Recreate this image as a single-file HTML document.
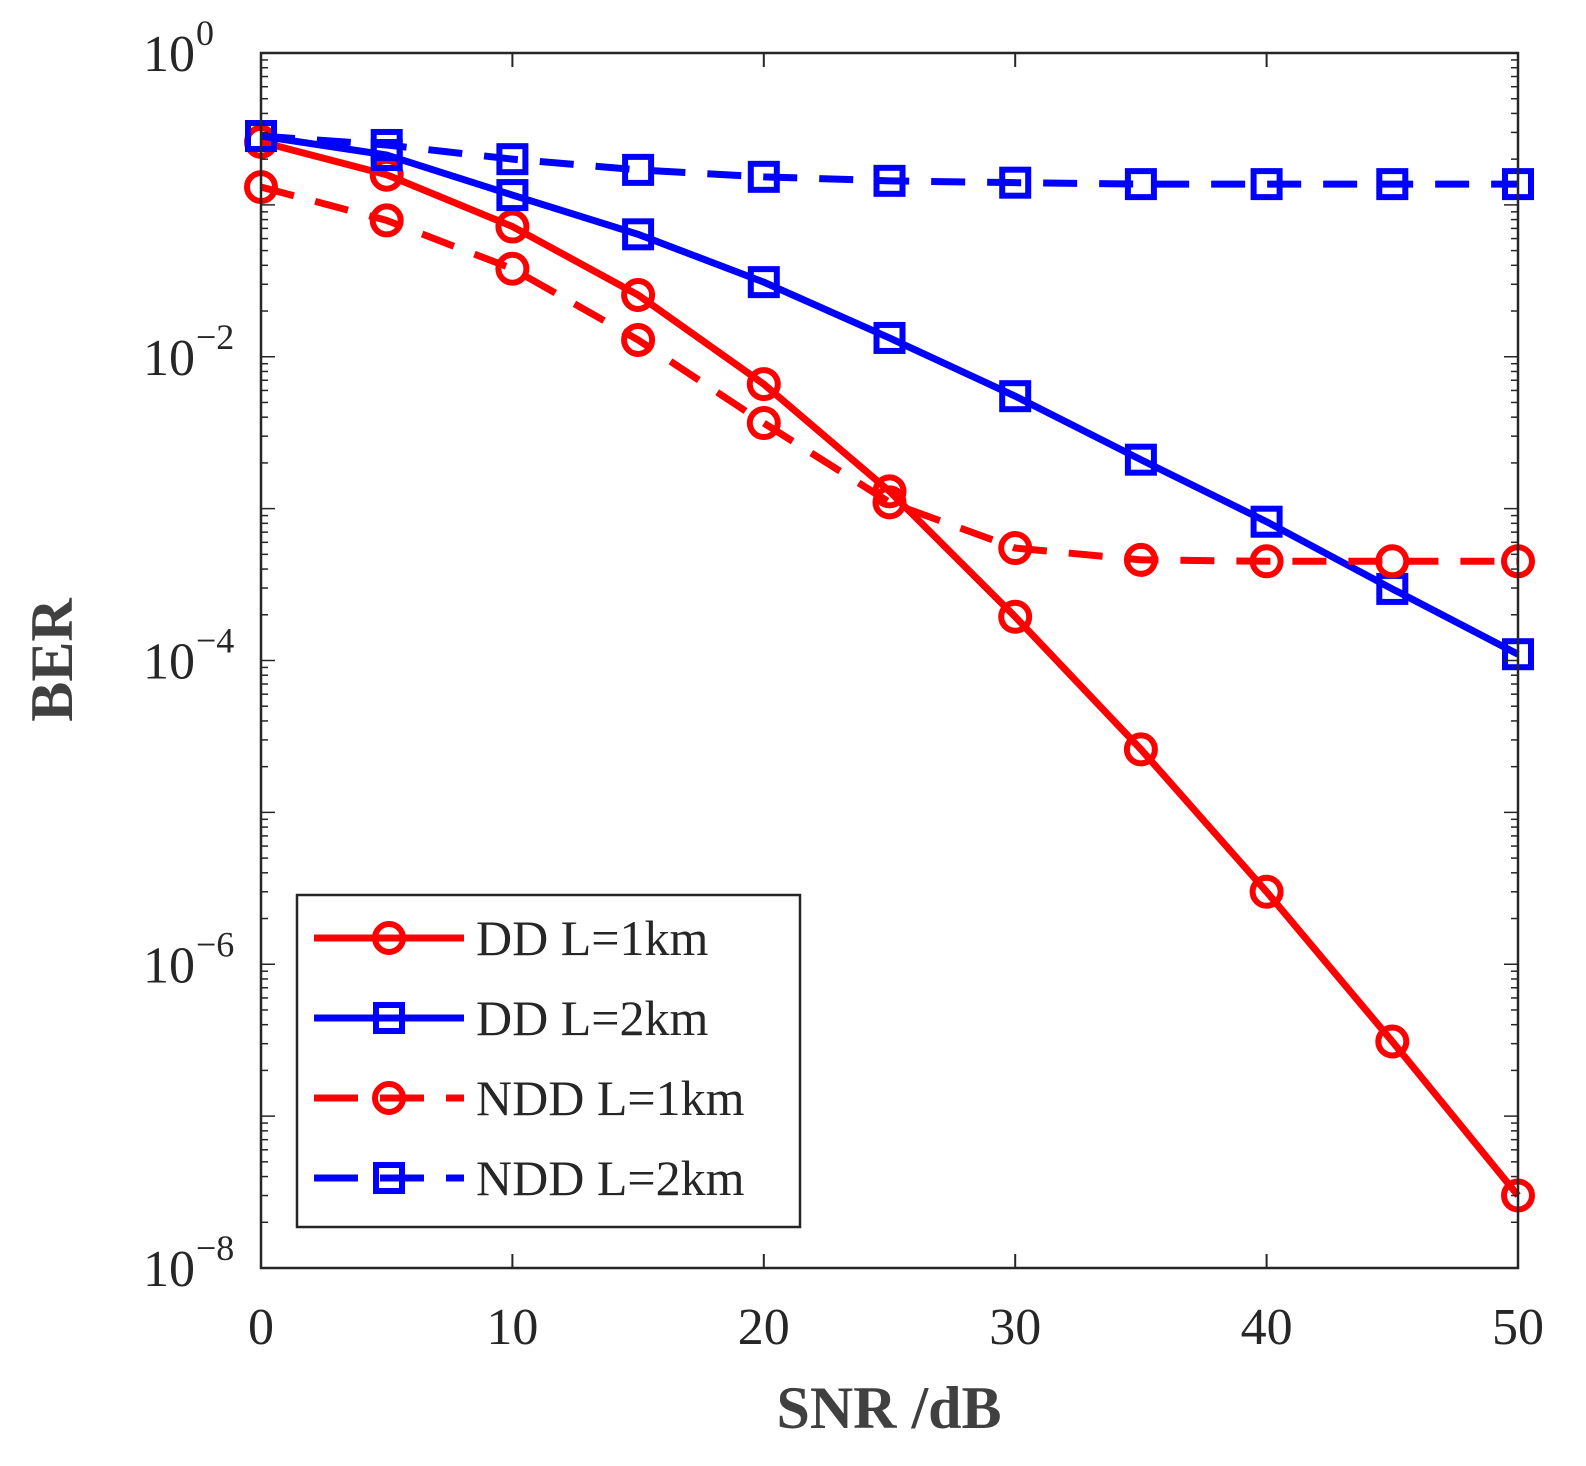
<!DOCTYPE html>
<html><head><meta charset="utf-8"><style>
html,body{margin:0;padding:0;background:#fff;}
svg{display:block;font-family:"Liberation Serif",serif;}
</style></head><body>
<svg id="chart" width="1586" height="1466" viewBox="0 0 1586 1466" xmlns="http://www.w3.org/2000/svg">
<rect width="1586" height="1466" fill="#fff"/>
<g id="grid"></g>
<g id="series"></g>
<rect x="261" y="53" width="1257" height="1215" fill="none" stroke="#262626" stroke-width="2.5"/>
<g id="ticks"></g>
<text x="889" y="1428" text-anchor="middle" font-size="60" font-weight="bold" fill="#404040">SNR /dB</text>
<text transform="translate(72,660) rotate(-90)" text-anchor="middle" font-size="60" font-weight="bold" fill="#404040">BER</text>
<g id="legend"></g>
</svg>
<script>
const snr = [0,5,10,15,20,25,30,35,40,45,50];
const ddL1 = [0.26,0.158,0.072,0.0255,0.0066,0.0013,1.94e-4,2.6e-5,3e-6,3.1e-7,3e-8];
const ddL2 = [0.284,0.213,0.116,0.064,0.031,0.0133,0.0055,0.0021,8.2e-4,2.96e-4,1.1e-4];
const nddL1 = [0.131,0.079,0.038,0.0129,0.00366,0.0011,5.5e-4,4.6e-4,4.5e-4,4.5e-4,4.5e-4];
const nddL2 = [0.284,0.248,0.2,0.17,0.153,0.144,0.14,0.137,0.137,0.137,0.137];
const xTicks = [0,10,20,30,40,50];
const yExps = [0,-2,-4,-6,-8];
const seriesNames = ["DD L=1km","DD L=2km","NDD L=1km","NDD L=2km"];

const NS="http://www.w3.org/2000/svg";
const X0=261,X1=1518,Y0=53,Y1=1268;
const xs=v=>X0+(v-0)/(50-0)*(X1-X0);
const ys=v=>Y0+(0-Math.log10(v))/8*(Y1-Y0);
function mk(tag,attrs,parent){const e=document.createElementNS(NS,tag);for(const k in attrs)e.setAttribute(k,attrs[k]);parent.appendChild(e);return e;}
const tk=document.getElementById('ticks');
xTicks.forEach(t=>{
  const x=xs(t);
  const l1=mk('line',{x1:x,x2:x,y1:Y1,y2:Y1-14,stroke:'#262626','stroke-width':2},tk);
  
  
  mk('line',{x1:x,x2:x,y1:Y0,y2:Y0+14,stroke:'#262626','stroke-width':2},tk);
  const tx=mk('text',{x:x,y:1344,'text-anchor':'middle','font-size':52,fill:'#262626'},tk);
  tx.textContent=t;
  
  
});
for(let d=0;d>-8;d--){
  for(let m=1;m<=9;m++){
    const v=Math.pow(10,d-1)*m; const y=ys(v);
    const len=(m===1)?14:7;
    mk('line',{x1:X0,x2:X0+len,y1:y,y2:y,stroke:'#262626','stroke-width':1.5},tk);
    mk('line',{x1:X1,x2:X1-len,y1:y,y2:y,stroke:'#262626','stroke-width':1.5},tk);
  }
}
yExps.forEach(e=>{
  const y=ys(Math.pow(10,e));
  const t=mk('text',{x:195,y:y+18,'text-anchor':'end','font-size':52,fill:'#262626'},tk);
  
  
  t.textContent='10';
  const s=mk('tspan',{x:196,y:y-8,'text-anchor':'start','font-size':36},t);
  s.textContent=(e===0?'0':'\u2212'+(-e));
});
const sg=document.getElementById('series');
const defs=[[ddL1,'#ff0000','','circle','dd-1km'],[ddL2,'#0000ff','','square','dd-2km'],[nddL1,'#ff0000','34 22','circle','ndd-1km'],[nddL2,'#0000ff','34 22','square','ndd-2km']];
function marker(g,type,x,y,col){
  if(type==='circle') return mk('circle',{cx:x,cy:y,r:14,fill:'none',stroke:col,'stroke-width':6},g);
  return mk('rect',{x:x-13,y:y-13,width:26,height:26,fill:'none',stroke:col,'stroke-width':6},g);
}
defs.forEach(([vals,col,dash,mt,name])=>{
  const g=mk('g',{},sg);
  
  
  const pts=vals.map((v,i)=>xs(snr[i])+','+ys(v)).join(' ');
  const pl=mk('polyline',{points:pts,fill:'none',stroke:col,'stroke-width':7,'stroke-dasharray':dash||'none'},g);
  
  
  vals.forEach((v,i)=>{
    const m=marker(g,mt,xs(snr[i]),ys(v),col);
    
    
  });
});
const lg=document.getElementById('legend');
mk('rect',{x:297,y:895,width:503,height:332,fill:'#fff',stroke:'#262626','stroke-width':2.5},lg);
defs.forEach(([vals,col,dash,mt,name],i)=>{
  const y=938+i*80;
  const g=mk('g',{},lg);
  
  
  mk('line',{x1:314,x2:464,y1:y,y2:y,stroke:col,'stroke-width':7,'stroke-dasharray':dash?'44 22':'none'},g);
  marker(g,mt,389,y,col);
  const t=mk('text',{x:476,y:y+17,'font-size':50,fill:'#262626'},g);
  t.textContent=seriesNames[i];
});
</script>
</body></html>
